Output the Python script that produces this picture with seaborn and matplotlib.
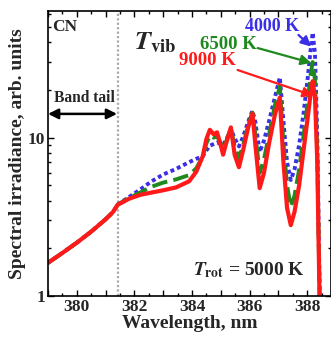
import matplotlib
matplotlib.use("Agg")
import matplotlib.pyplot as plt
import matplotlib.ticker as mticker
import numpy as np
import pandas as pd
import seaborn as sns

# ---------------- data ----------------
wavelength = [379.0, 379.5, 380.0, 380.5, 381.0, 381.25, 381.42, 381.6, 381.8, 382.2,
              382.6, 383.0, 383.45, 383.9, 384.15, 384.37, 384.5, 384.62, 384.75, 384.87,
              385.0, 385.08, 385.2, 385.35, 385.48, 385.63, 385.78, 385.95, 386.1, 386.2,
              386.35, 386.5, 386.68, 386.88, 387.05, 387.17, 387.3, 387.43, 387.56, 387.72,
              387.88, 388.02, 388.12, 388.19, 388.27, 388.35, 388.42, 388.48]

irr_4000 = [1.62, 1.87, 2.17, 2.55, 3.05, 3.38, 3.77, 3.98, 4.2, 4.7,
            5.3, 5.85, 6.35, 7.0, 7.35, 7.6, 8.3, 8.9, 9.1, 9.3,
            9.1, 9.0, 9.8, 11.3, 9.9, 8.8, 10.2, 12.6, 14.8, 12.5,
            8.1, 9.6, 12.8, 18.0, 24.0, 13.0, 7.0, 5.4, 6.3, 9.0,
            14.5, 24.0, 36.0, 46.0, 34.0, 10.0, 1.5, 0.4]

irr_6500 = [1.62, 1.87, 2.17, 2.55, 3.05, 3.38, 3.77, 3.95, 4.15, 4.5,
            4.9, 5.2, 5.45, 5.8, 6.4, 7.6, 9.2, 10.3, 10.0, 10.2,
            9.2, 8.5, 9.6, 11.5, 8.8, 7.4, 9.0, 12.0, 14.4, 10.5,
            6.0, 7.3, 10.6, 16.0, 21.0, 9.5, 5.0, 3.66, 4.3, 6.3,
            10.5, 17.0, 25.0, 30.0, 23.0, 8.0, 1.3, 0.4]

irr_9000 = [1.62, 1.87, 2.17, 2.55, 3.05, 3.38, 3.77, 3.92, 4.1, 4.35,
            4.5, 4.65, 4.85, 5.3, 6.1, 7.6, 9.8, 11.2, 10.5, 10.8,
            8.9, 7.8, 9.4, 11.6, 7.8, 6.5, 8.4, 11.6, 14.2, 9.0,
            4.8, 6.0, 9.3, 14.0, 17.9, 7.2, 3.6, 2.8, 3.4, 5.0,
            8.5, 13.5, 19.0, 22.7, 18.0, 7.0, 1.2, 0.4]

series_labels = ["4000 K", "6500 K", "9000 K"]
band_tail_edge = 381.42
x_ticks = [380, 382, 384, 386, 388]
y_ticks = [1, 10]

# ---------------- style ----------------
sns.set_style("ticks")
plt.rcParams["font.family"] = ["Liberation Serif", "DejaVu Serif"]
plt.rcParams["font.weight"] = "bold"
plt.rcParams["mathtext.fontset"] = "stix"

colors = {"4000 K": "#3a2ee6", "6500 K": "#1e8a1e", "9000 K": "#ff1a1a"}
styles = {"4000 K": (0, (1, 0.8)), "6500 K": (0, (4, 1.6)), "9000 K": "-"}
widths = {"4000 K": 2.8, "6500 K": 2.8, "9000 K": 3.0}

fig = plt.figure(figsize=(3.31, 3.38), dpi=100)
ax = fig.add_axes([48 / 331, 1 - 296 / 338, 283 / 331, 285 / 338])

for lab, vals in zip(series_labels, [irr_4000, irr_6500, irr_9000]):
    df = pd.DataFrame({"wl": wavelength, "irr": vals})
    sns.lineplot(data=df, x="wl", y="irr", ax=ax, color=colors[lab],
                 linewidth=widths[lab], linestyle=styles[lab], legend=False)

ax.axvline(band_tail_edge, color="#aaaaaa", linestyle=(0, (1, 1)), linewidth=1.6, zorder=0)

ax.set_yscale("log")
ax.set_ylim(1, 63)
ax.set_xlim(379, 379 + 283 / 28.8)

ax.xaxis.set_major_locator(mticker.MultipleLocator(1))
ax.xaxis.set_minor_locator(mticker.MultipleLocator(0.5))
ax.xaxis.set_major_formatter(mticker.FuncFormatter(
    lambda v, p: f"{int(round(v))}" if int(round(v)) in x_ticks else ""))
ax.yaxis.set_major_locator(mticker.FixedLocator(y_ticks))
ax.yaxis.set_minor_locator(mticker.LogLocator(base=10, subs=np.arange(2, 10)))
ax.yaxis.set_major_formatter(mticker.FuncFormatter(lambda v, p: f"{int(v)}"))
ax.yaxis.set_minor_formatter(mticker.NullFormatter())

ax.tick_params(which="both", direction="in", top=True, right=True, labelsize=12.5,
               width=1.0, color="black")
ax.tick_params(which="major", length=4, pad=2)
ax.tick_params(which="minor", length=2)
for lbl in ax.get_xticklabels() + ax.get_yticklabels():
    lbl.set_fontweight("bold")
for s in ax.spines.values():
    s.set_linewidth(1.2)
    s.set_color("black")

ax.set_xlabel("Wavelength, nm", fontsize=14, fontweight="bold", labelpad=0)
ax.set_ylabel("Spectral irradiance, arb. units", fontsize=14, fontweight="bold", labelpad=1)

# ---------------- annotations ----------------
T = ax.transAxes
ax.text(0.014, 0.944, "CN", transform=T, fontsize=12.5, fontweight="bold", ha="left", va="center")
ax.text(0.305, 0.89, r"$T_{\rm vib}$", transform=T, fontsize=19, ha="left", va="center")
ax.text(0.79, 0.944, "4000 K", transform=T, fontsize=13, fontweight="bold",
        color=colors["4000 K"], ha="center", va="center")
ax.text(0.636, 0.884, "6500 K", transform=T, fontsize=13.5, fontweight="bold",
        color=colors["6500 K"], ha="center", va="center")
ax.text(0.562, 0.825, "9000 K", transform=T, fontsize=13.5, fontweight="bold",
        color=colors["9000 K"], ha="center", va="center")

for lab, start, end in [("4000 K", (0.885, 0.916), (0.93, 0.875)),
                        ("6500 K", (0.741, 0.870), (0.93, 0.818)),
                        ("9000 K", (0.670, 0.793), (0.937, 0.703))]:
    ax.annotate("", xy=end, xycoords=T, xytext=start, textcoords=T,
                arrowprops=dict(arrowstyle="-|>,head_length=0.6,head_width=0.3",
                                color=colors[lab], lw=1.6, shrinkA=0, shrinkB=0))

ax.text(0.13, 0.695, "Band tail", transform=T, fontsize=11.2, fontweight="bold",
        ha="center", va="center")
ax.annotate("", xy=(0.0, 0.639), xycoords=T, xytext=(0.244, 0.639), textcoords=T,
            arrowprops=dict(arrowstyle="<|-|>,head_length=0.6,head_width=0.3",
                            color="black", lw=1.8, shrinkA=0, shrinkB=0))

ax.text(0.71, 0.091, r"$T_{\rm rot}$ = 5000 K", transform=T, fontsize=14,
        fontweight="bold", ha="center", va="center")

fig.savefig("out.png", dpi=100)
